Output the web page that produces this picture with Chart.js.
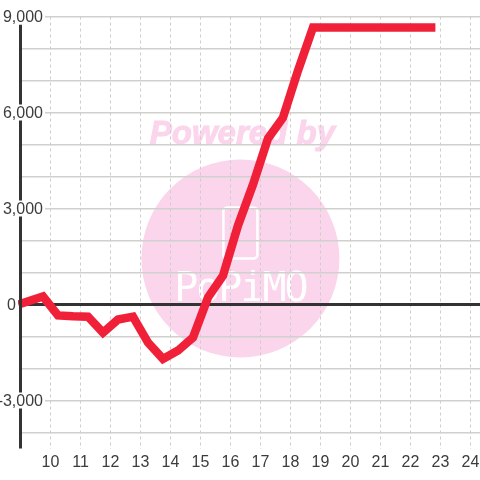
<!DOCTYPE html>
<html>
<head>
<meta charset="utf-8">
<style>
  html, body { margin: 0; padding: 0; background: #fff; }
  #wrap { width: 480px; height: 480px; }
</style>
<script src="https://cdn.jsdelivr.net/npm/chart.js@4"></script>
</head>
<body>
<div id="wrap"><canvas id="chart" width="480" height="480"></canvas></div>
<script>
// hours, half-hourly readings
const hours = [8.93, 9.75, 10.25, 10.75, 11.25, 11.75, 12.25, 12.75, 13.25, 13.75, 14.25, 14.75, 15.25, 15.75, 16.25, 16.75, 17.25, 17.75, 18.25, 18.75, 19.25, 19.75, 20.25, 20.75, 21.25, 21.75, 22.25, 22.83];
const values = [0, 250, -340, -370, -380, -880, -470, -380, -1190, -1700, -1440, -1030, 220, 900, 2470, 3750, 5190, 5840, 7310, 8660, 8660, 8660, 8660, 8660, 8660, 8660, 8660, 8660];
const xTicks = [10, 11, 12, 13, 14, 15, 16, 17, 18, 19, 20, 21, 22, 23, 24];
const yGridValues = [9000, 8000, 7000, 6000, 5000, 4000, 3000, 2000, 1000, 0, -1000, -2000, -3000, -4000];
const yTickLabels = ['9,000', '6,000', '3,000', '0', '-3,000'];
const yTickValues = [9000, 6000, 3000, 0, -3000];

const font = '"Liberation Sans", Arial, sans-serif';
const textColor = '#3c3c3c';
const gridColor = '#d0d1cd';

// watermark sits under the grid, positions taken from the chart area
const watermark = {
  id: 'watermark',
  beforeDraw(chart) {
    const { ctx, scales: { x, y } } = chart;
    const cx = x.getPixelForValue(16.33);
    const cy = y.getPixelForValue(1437);
    ctx.save();
    ctx.fillStyle = '#fbd5ec';
    ctx.beginPath();
    ctx.arc(cx, cy, 99, 0, Math.PI * 2);
    ctx.fill();
    ctx.font = 'italic bold 33px ' + font;
    ctx.textAlign = 'center';
    ctx.textBaseline = 'middle';
    ctx.strokeStyle = '#fbd5ec';
    ctx.lineWidth = 1;
    ctx.strokeText('Powered by', cx + 2, cy - 124);
    ctx.fillText('Powered by', cx + 2, cy - 124);
    ctx.strokeStyle = '#fff';
    ctx.lineWidth = 2.5;
    ctx.beginPath();
    ctx.roundRect(cx - 17, cy - 51, 34, 51, 4);
    ctx.stroke();
    ctx.fillStyle = '#fff';
    ctx.font = '40px "DejaVu Sans Mono", monospace';
    ctx.letterSpacing = '-2px';
    ctx.fillText('PoPiMO', cx, cy + 32);
    ctx.restore();
  }
};

// axis line and y labels: white box behind each label, as in the original
const axisLines = {
  id: 'axisLines',
  afterDatasetsDraw(chart) {
    const { ctx, scales: { x, y } } = chart;
    ctx.save();
    ctx.strokeStyle = '#333';
    ctx.lineWidth = 3;
    ctx.beginPath();
    ctx.moveTo(x.getPixelForValue(9), y.getPixelForValue(8750));
    ctx.lineTo(x.getPixelForValue(9), y.getPixelForValue(-4500));
    ctx.stroke();
    ctx.font = '16px ' + font;
    ctx.textBaseline = 'middle';
    ctx.textAlign = 'right';
    yTickLabels.forEach((label, i) => {
      const py = y.getPixelForValue(yTickValues[i]);
      const right = label === '0' ? 17 : 44;
      const w = ctx.measureText(label).width;
      ctx.fillStyle = '#fff';
      ctx.fillRect(right - w - 1, py - 8, w + 2, 16);
      ctx.fillStyle = textColor;
      ctx.fillText(label, right - 1, py + 1);
    });
    ctx.restore();
  }
};

new Chart(document.getElementById('chart'), {
  type: 'line',
  data: {
    datasets: [{
      data: hours.map((h, i) => ({ x: h, y: values[i] })),
      borderColor: '#f12039',
      borderWidth: 8.5,
      pointRadius: 0,
      tension: 0,
      borderJoinStyle: 'miter',
      borderCapStyle: 'butt',
      clip: false
    }]
  },
  options: {
    responsive: false,
    animation: false,
    layout: { padding: { top: 16.5, left: 20.5, right: 0, bottom: 0 } },
    plugins: { legend: { display: false }, tooltip: { enabled: false } },
    scales: {
      x: {
        type: 'linear',
        min: 9,
        max: 24.317,
        afterFit(axis) {
          axis.paddingLeft = 0;
          axis.paddingRight = 0;
          axis.height = 31.5;
        },
        afterBuildTicks(axis) {
          axis.ticks = xTicks.map(v => ({ value: v }));
        },
        grid: { color: '#cdcdcd', lineWidth: 1, drawTicks: false },
        border: { display: false, dash: [3, 3] },
        ticks: {
          autoSkip: false,
          maxRotation: 0,
          padding: 4,
          color: textColor,
          font: { family: font, size: 16 }
        }
      },
      y: {
        min: -4500,
        max: 9000,
        afterFit(axis) { axis.width = 0; },
        afterBuildTicks(axis) {
          axis.ticks = yGridValues.map(v => ({ value: v }));
        },
        border: { display: false },
        grid: {
          drawTicks: false,
          color: c => (c.tick && c.tick.value === 0 ? '#333' : gridColor),
          lineWidth: c => (c.tick && c.tick.value === 0 ? 3 : 1.5)
        },
        ticks: { display: false }
      }
    }
  },
  plugins: [watermark, axisLines]
});
</script>
</body>
</html>
